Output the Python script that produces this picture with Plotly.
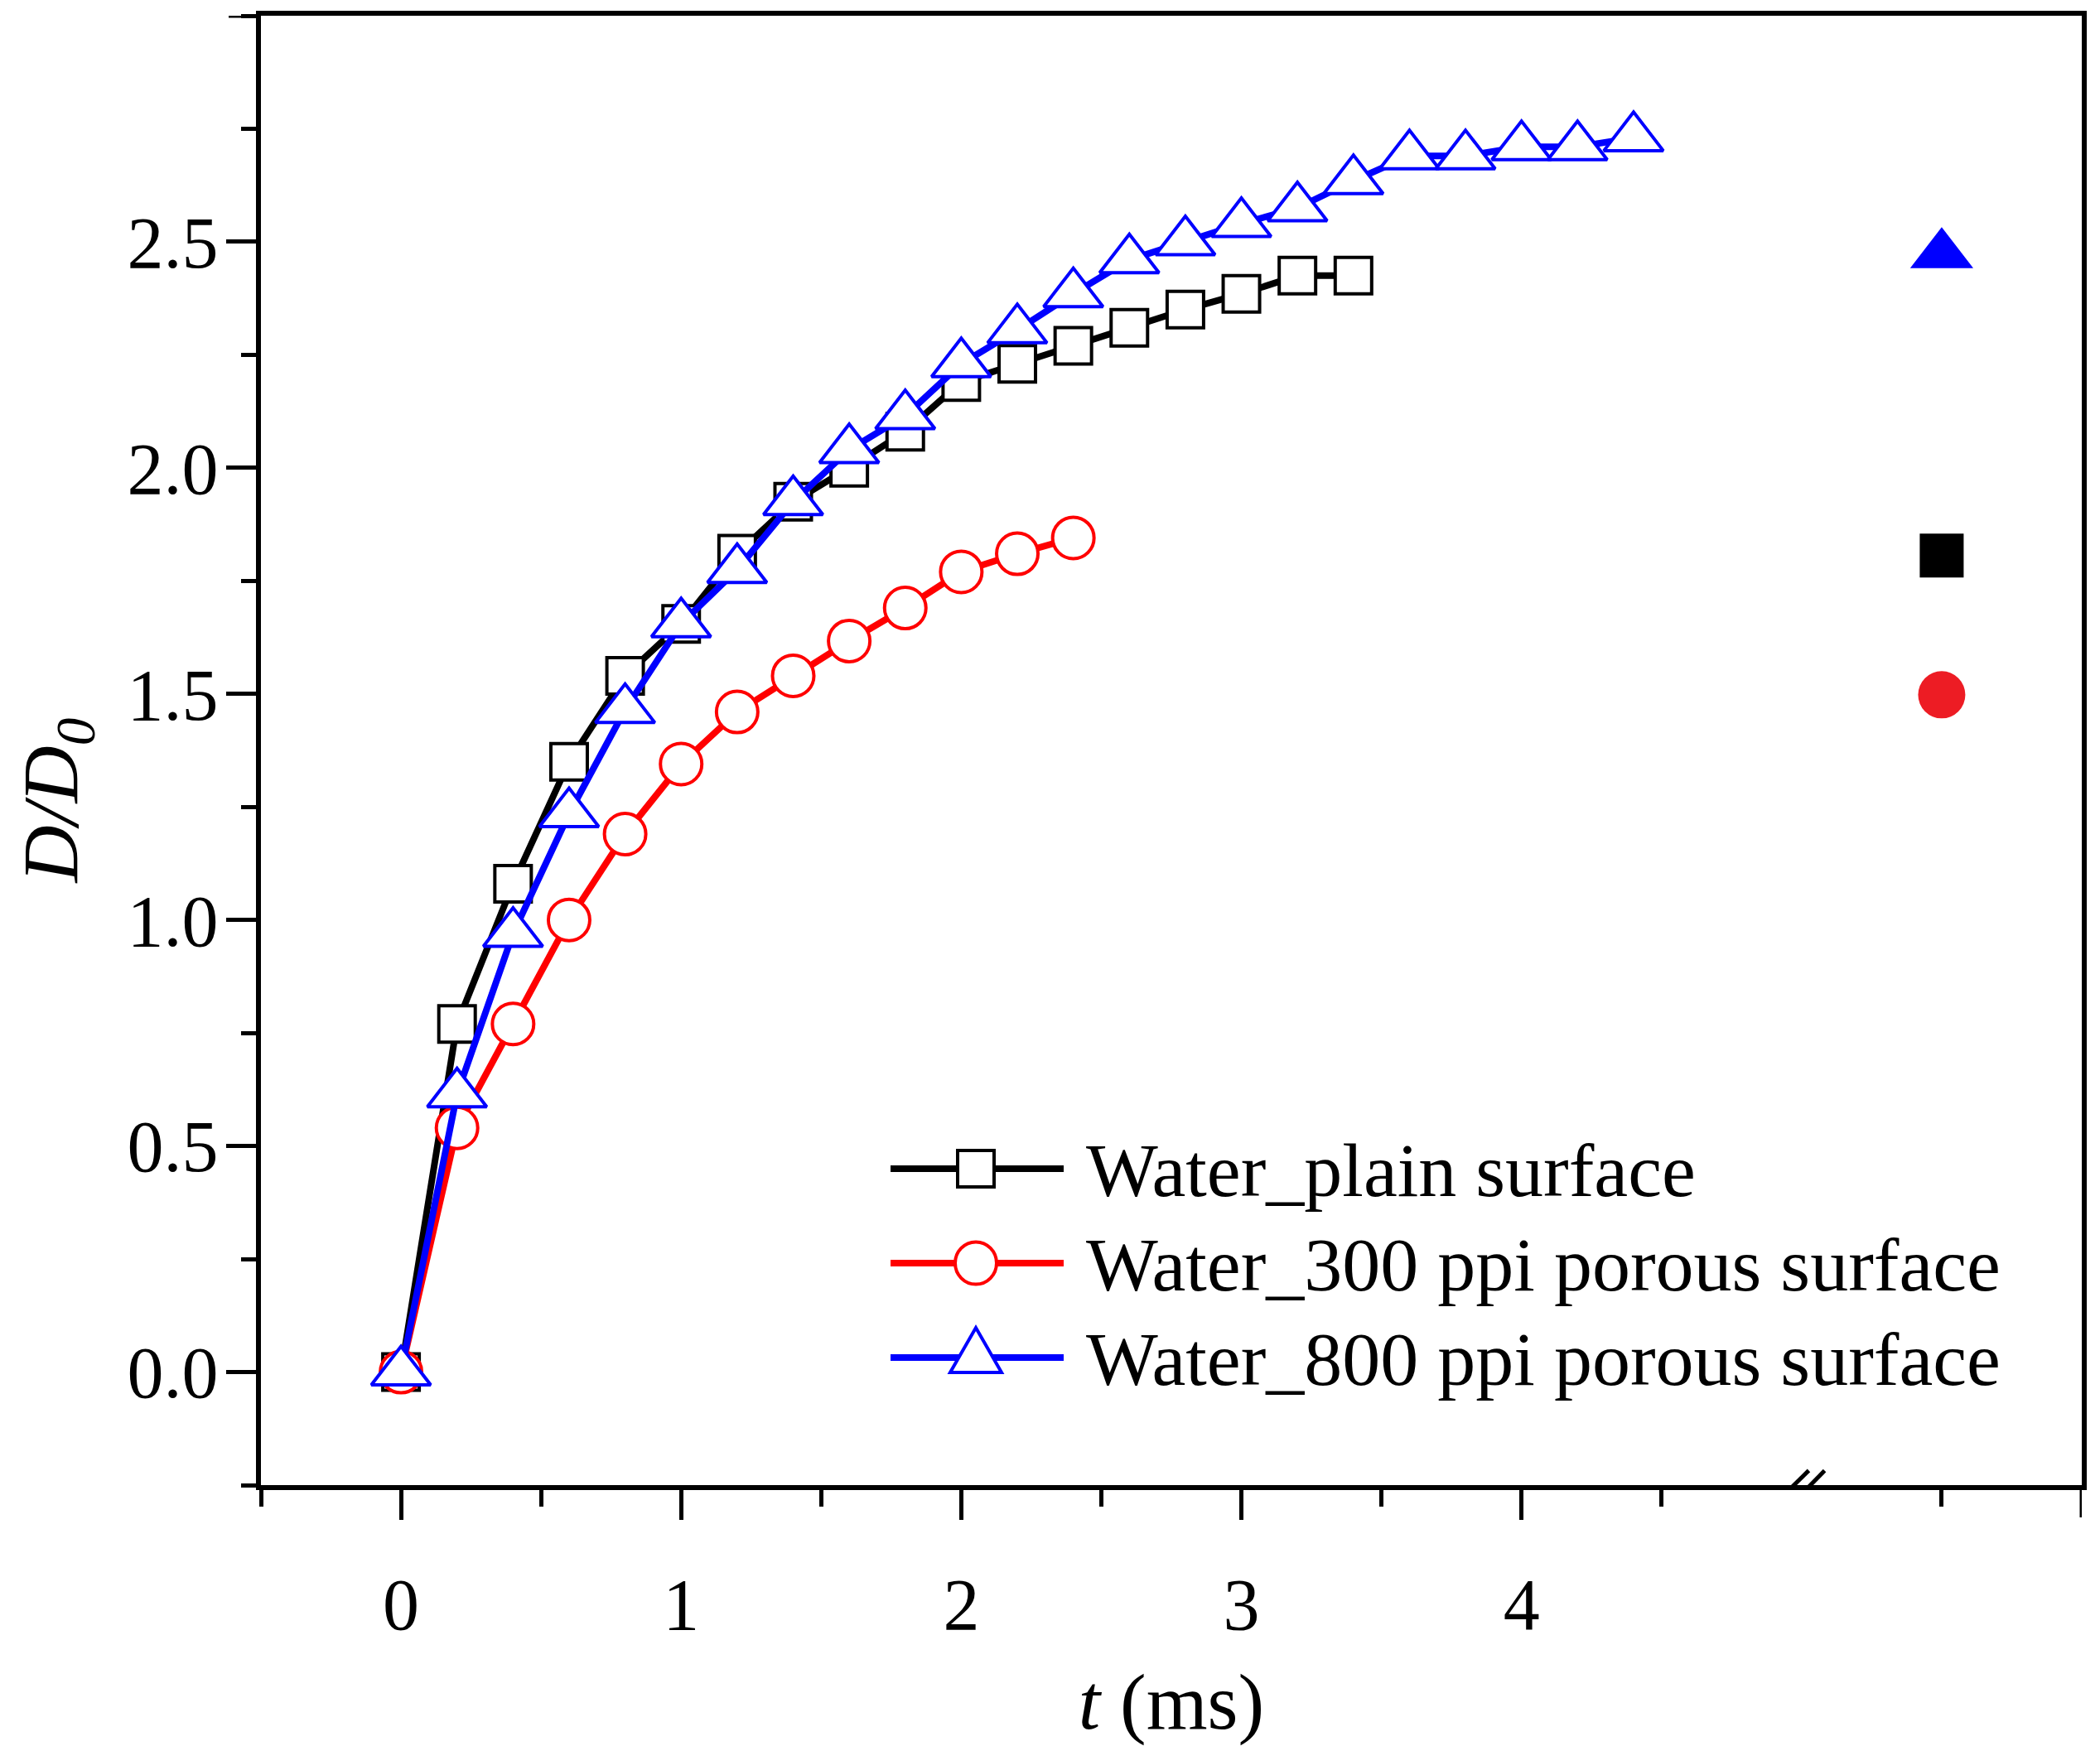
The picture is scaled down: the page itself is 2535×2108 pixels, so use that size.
import plotly.graph_objects as go

# ---------------- data ----------------
t_plain = [0, 0.2, 0.4, 0.6, 0.8, 1.0, 1.2, 1.4, 1.6, 1.8, 2.0, 2.2, 2.4, 2.6, 2.8, 3.0, 3.2, 3.4]
d_plain = [0, 0.77, 1.08, 1.35, 1.54, 1.655, 1.81, 1.925, 2.00, 2.08, 2.19, 2.23, 2.27, 2.31,
           2.35, 2.385, 2.425, 2.425]

t_300 = [0, 0.2, 0.4, 0.6, 0.8, 1.0, 1.2, 1.4, 1.6, 1.8, 2.0, 2.2, 2.4]
d_300 = [0, 0.54, 0.77, 1.00, 1.19, 1.345, 1.46, 1.54, 1.617, 1.69, 1.77, 1.81, 1.845]

t_800 = [0, 0.2, 0.4, 0.6, 0.8, 1.0, 1.2, 1.4, 1.6, 1.8, 2.0, 2.2, 2.4, 2.6, 2.8, 3.0, 3.2,
         3.4, 3.6, 3.8, 4.0, 4.2, 4.4]
d_800 = [0, 0.615, 0.97, 1.235, 1.465, 1.655, 1.775, 1.925, 2.04, 2.115, 2.23, 2.305, 2.385,
         2.46, 2.50, 2.54, 2.575, 2.635, 2.69, 2.69, 2.71, 2.71, 2.73]

# values shown after the axis break
t_final = [5.5]
final_plain = [1.806]
final_300 = [1.498]
final_800 = [2.472]

series_names = ["Water_plain surface", "Water_300 ppi porous surface", "Water_800 ppi porous surface"]

x_tickvals = [0, 1, 2, 3, 4]
x_ticktext = ["0", "1", "2", "3", "4"]
x_minorvals = [-0.5, 0.5, 1.5, 2.5, 3.5, 4.5, 5.5]
y_tickvals = [0, 0.5, 1.0, 1.5, 2.0, 2.5]
y_ticktext = ["0.0", "0.5", "1.0", "1.5", "2.0", "2.5"]
x_range = [-0.5, 6.0]
y_range = [-0.25, 3.0]
x_break = 5.0

# ---------------- styling / layout constants ----------------
OFF = 8                      # page body margin of the html page
W, H = 2535 - OFF, 2108 - OFF
ML, MR, MT, MB = 307, 22, 11, 315
PW, PH = W - ML - MR, H - MT - MB
FONT = "Liberation Serif"
BLACK, RED, BLUE = "#000000", "#FF0000", "#0000FF"
FRED = "#ED1C24"
LW = 8
TICKLEN, TICKW = 36, 5


def px(xs):
    """screen x (px) -> paper fraction"""
    return (xs - OFF - ML) / PW


def py(ys):
    """screen y (px) -> paper fraction"""
    return 1 - (ys - OFF - MT) / PH


fig = go.Figure()

fig.add_trace(go.Scatter(
    x=t_plain, y=d_plain, mode="lines+markers", name=series_names[0], showlegend=False,
    line=dict(color=BLACK, width=LW),
    marker=dict(symbol="square", size=44, color="white", line=dict(color=BLACK, width=4))))
fig.add_trace(go.Scatter(
    x=t_300, y=d_300, mode="lines+markers", name=series_names[1], showlegend=False,
    line=dict(color=RED, width=LW),
    marker=dict(symbol="circle", size=50, color="white", line=dict(color=RED, width=4))))
fig.add_trace(go.Scatter(
    x=t_800, y=d_800, mode="lines+markers", name=series_names[2], showlegend=False,
    line=dict(color=BLUE, width=LW),
    marker=dict(symbol="triangle-up", size=62, color="white", line=dict(color=BLUE, width=4))))

fig.add_trace(go.Scatter(x=t_final, y=final_800, mode="markers", showlegend=False,
                         marker=dict(symbol="triangle-up", size=66, color=BLUE)))
fig.add_trace(go.Scatter(x=t_final, y=final_plain, mode="markers", showlegend=False,
                         marker=dict(symbol="square", size=53, color=BLACK)))
fig.add_trace(go.Scatter(x=t_final, y=final_300, mode="markers", showlegend=False,
                         marker=dict(symbol="circle", size=57, color=FRED)))

shapes = []
# unlabeled long ticks at the top of the y axis and the right end of the x axis
shapes.append(dict(type="line", xref="paper", yref="y", xsizemode="pixel", xanchor=0,
                   x0=-3 - TICKLEN, x1=-3, y0=y_range[1], y1=y_range[1],
                   line=dict(color=BLACK, width=TICKW), layer="above"))
shapes.append(dict(type="line", xref="x", yref="paper", ysizemode="pixel", yanchor=0,
                   x0=x_range[1], x1=x_range[1], y0=-3 - TICKLEN, y1=-3,
                   line=dict(color=BLACK, width=TICKW), layer="above"))
# axis break marks on the bottom axis
shapes.append(dict(type="path", xref="x", yref="y", xsizemode="pixel", ysizemode="pixel",
                   xanchor=x_break, yanchor=y_range[0],
                   path="M-15,-6 L6,-6 L16,6 L-5,6 Z",
                   fillcolor="white", line=dict(width=0), layer="above"))
for dx0, dy0, dx1, dy1 in [(-26.6, -17, 8.6, 17.6), (-5.5, -16.4, 27.7, 17.4)]:
    shapes.append(dict(type="line", xref="x", yref="y", xsizemode="pixel", ysizemode="pixel",
                       xanchor=x_break, yanchor=y_range[0], x0=dx0, y0=dy0, x1=dx1, y1=dy1,
                       line=dict(color=BLACK, width=5), layer="above"))

# hand-drawn legend (long sample lines as in the original)
leg_rows = [1411, 1525, 1639]
leg_x0, leg_x1, leg_xm, leg_text_x = 1075, 1284, 1178, 1309
leg_colors = [BLACK, RED, BLUE]
annotations = []
for i, (yr, col) in enumerate(zip(leg_rows, leg_colors)):
    shapes.append(dict(type="line", xref="paper", yref="paper", x0=px(leg_x0), x1=px(leg_x1),
                       y0=py(yr), y1=py(yr), line=dict(color=col, width=LW), layer="above"))
    common = dict(xref="paper", yref="paper", xsizemode="pixel", ysizemode="pixel",
                  xanchor=px(leg_xm), yanchor=py(yr), fillcolor="white",
                  line=dict(color=col, width=4), layer="above")
    if i == 0:
        shapes.append(dict(type="rect", x0=-22, x1=22, y0=-22, y1=22, **common))
    elif i == 1:
        shapes.append(dict(type="circle", x0=-25, x1=25, y0=-25.5, y1=25.5, **common))
    else:
        shapes.append(dict(type="path", path="M-31,-18 L31,-18 L0,36 Z", **common))
    annotations.append(dict(xref="paper", yref="paper", x=px(leg_text_x), y=py(yr + 2),
                            xanchor="left", yanchor="middle", showarrow=False,
                            text=series_names[i], font=dict(family=FONT, size=92, color=BLACK)))

axis_common = dict(showline=True, linecolor=BLACK, linewidth=6, mirror=True, showgrid=False,
                   zeroline=False, ticks="outside", ticklen=TICKLEN, tickwidth=TICKW,
                   tickcolor=BLACK, automargin=False,
                   tickfont=dict(family=FONT, size=88, color=BLACK))

fig.update_layout(
    template="none",
    width=W, height=H, margin=dict(l=ML, r=MR, t=MT, b=MB, autoexpand=False),
    paper_bgcolor="white", plot_bgcolor="white", showlegend=False,
    xaxis=dict(range=x_range, tickmode="array", tickvals=x_tickvals, ticktext=x_ticktext,
               minor=dict(tickmode="array", tickvals=x_minorvals, ticks="outside", ticklen=20,
                          tickwidth=TICKW, tickcolor=BLACK),
               ticklabelstandoff=26,
               title=dict(text="<i>t</i> (ms)", standoff=52,
                          font=dict(family=FONT, size=95, color=BLACK)),
               **axis_common),
    yaxis=dict(range=y_range, tickmode="array", tickvals=y_tickvals, ticktext=y_ticktext,
               minor=dict(tickmode="linear", tick0=0, dtick=0.25, ticks="outside", ticklen=18,
                          tickwidth=TICKW, tickcolor=BLACK),
               ticklabelstandoff=-8,
               title=dict(text="<i>D/D<sub>0</sub></i>&nbsp;&nbsp;&nbsp;&nbsp;&nbsp;", standoff=38,
                          font=dict(family=FONT, size=96, color=BLACK)),
               **axis_common),
    shapes=shapes, annotations=annotations,
)

fig.write_html("out.html")
